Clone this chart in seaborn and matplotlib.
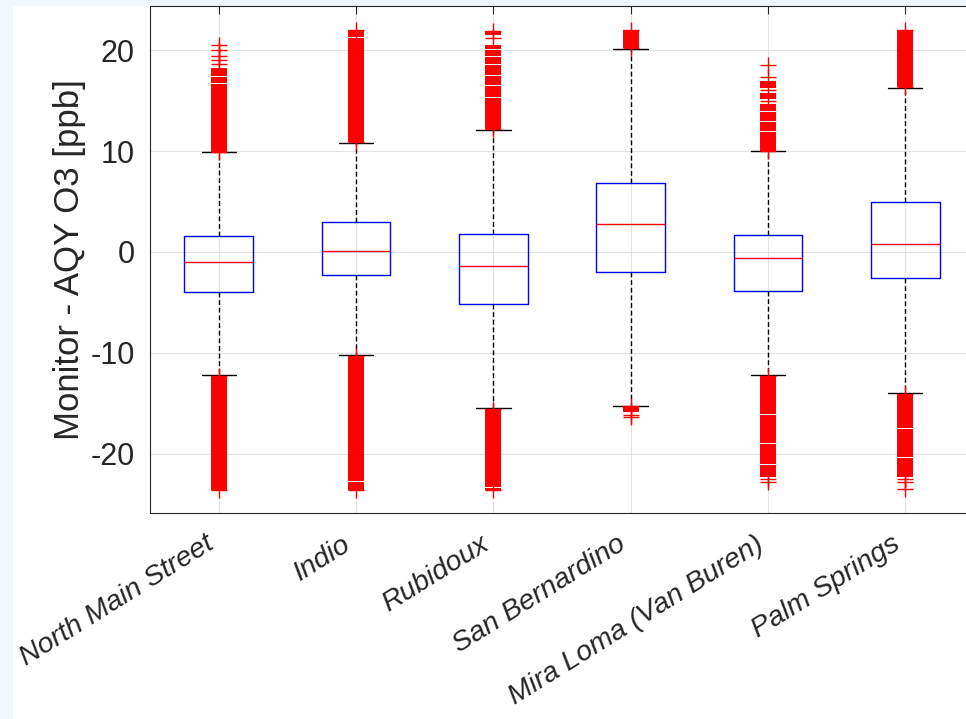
import numpy as np
import pandas as pd
import matplotlib
matplotlib.use("Agg")
import matplotlib.pyplot as plt
from matplotlib.patches import Rectangle
import seaborn as sns

# box summary (ppb)
sites = ["North Main Street", "Indio", "Rubidoux", "San Bernardino",
         "Mira Loma (Van Buren)", "Palm Springs"]
whisker_lo = [-12.25, -10.2, -15.5, -15.25, -12.2, -13.98]
q1 = [-3.96, -2.3, -5.17, -2.0, -3.89, -2.63]
medians = [-0.99, 0.1, -1.38, 2.77, -0.58, 0.8]
q3 = [1.58, 2.97, 1.75, 6.87, 1.68, 4.95]
whisker_hi = [9.88, 10.85, 12.1, 20.15, 10.0, 16.3]

# outliers: dense runs (start, end) and single points
nms_bands = [(9.95, 16.7), (16.8, 17.4), (17.5, 18.2), (-12.35, -23.65)]
nms_points = [9.95, 18.6, 19.0, 19.45, 20.0, 20.5, -12.35, -23.65]
indio_bands = [(10.95, 21.2), (21.3, 22.0), (-10.3, -22.7), (-22.8, -23.65)]
indio_points = [10.95, 22.0, -10.3, -23.65]
rubidoux_bands = [(12.2, 15.3), (15.4, 16.5), (16.6, 17.5), (17.6, 18.5),
                  (18.6, 19.3), (19.4, 20.0), (20.1, 20.5), (21.5, 21.9),
                  (-15.6, -23.3), (-23.4, -23.65)]
rubidoux_points = [12.2, 21.2, 21.9, -15.6, -23.65]
sanb_bands = [(20.25, 22.0), (-15.3, -15.9)]
sanb_points = [20.25, 22.0, -15.3, -16.2, -16.4]
mira_bands = [(10.05, 11.9), (12.0, 12.9), (13.0, 13.9), (14.0, 14.7),
              (15.2, 15.8), (16.3, 17.0),
              (-12.3, -16.1), (-16.2, -19.0), (-19.1, -21.0), (-21.1, -22.3)]
mira_points = [10.05, 15.0, 16.1, 17.4, 18.5, -12.3, -22.5, -22.8]
palm_bands = [(16.35, 22.0), (-14.05, -17.5), (-17.6, -20.3), (-20.4, -22.3)]
palm_points = [16.35, 22.0, -14.05, -22.5, -22.8, -23.5]

all_bands = [nms_bands, indio_bands, rubidoux_bands, sanb_bands, mira_bands, palm_bands]
all_points = [nms_points, indio_points, rubidoux_points, sanb_points, mira_points, palm_points]

sns.set_style("whitegrid")
plt.rcParams["font.family"] = ["Liberation Sans", "DejaVu Sans"]
plt.rcParams["axes.unicode_minus"] = False

# long table: five summary values per site give the same quartiles / whiskers
rows = []
for i, s in enumerate(sites):
    for v in (whisker_lo[i], q1[i], medians[i], q3[i], whisker_hi[i]):
        rows.append({"site": s, "diff": v})
df = pd.DataFrame(rows)

W, H = 966, 719
fig = plt.figure(figsize=(W / 100, H / 100), dpi=100, facecolor="#f2f7fc")
fig.add_artist(Rectangle((13 / W, 0), 1, (H - 6) / H, transform=fig.transFigure,
                         facecolor="white", edgecolor="none", zorder=-1))
ax = fig.add_axes([150 / W, 1 - 513 / H, 824 / W, 507 / H])
ax.set_facecolor("white")

sns.boxplot(data=df, x="site", y="diff", order=sites, width=0.5, fill=False,
            whis=1.5, showfliers=False, linewidth=1.0,
            boxprops=dict(color="#0000ff"),
            medianprops=dict(color="#ff0000"),
            whiskerprops=dict(color="black", linestyle=(0, (3.5, 2.0))),
            capprops=dict(color="black"),
            ax=ax)

for i in range(len(sites)):
    for lo, hi in all_bands[i]:
        ax.vlines(i, lo, hi, color="#ff0000", lw=11.5, capstyle="butt", zorder=3)
    pts = all_points[i]
    ax.plot([i] * len(pts), pts, "+", color="#ff0000", ms=11.5, mew=1.0, zorder=3)

ax.set_xlim(-0.5, 5.5)
ax.set_ylim(-25.9, 24.4)
ax.set_yticks([-20, -10, 0, 10, 20])
ax.set_xticks(range(len(sites)))
ax.set_xticklabels(sites, rotation=32, ha="right", style="italic", fontsize=20.5)
ax.set_xlabel("")
ax.set_ylabel("Monitor - AQY O3 [ppb]", fontsize=25, color="#262626", labelpad=3)

ax.grid(True, color="#e3e3e3", lw=0.8)
ax.set_axisbelow(True)
for sp in ax.spines.values():
    sp.set_visible(True)
    sp.set_color("#262626")
    sp.set_linewidth(0.8)
ax.tick_params(direction="in", length=5.5, width=0.8, color="#262626",
               top=True, right=True, labelcolor="#262626")
ax.tick_params(axis="y", pad=11, labelsize=22)
ax.tick_params(axis="x", pad=13)

fig.savefig("out.png", dpi=100, facecolor=fig.get_facecolor())
